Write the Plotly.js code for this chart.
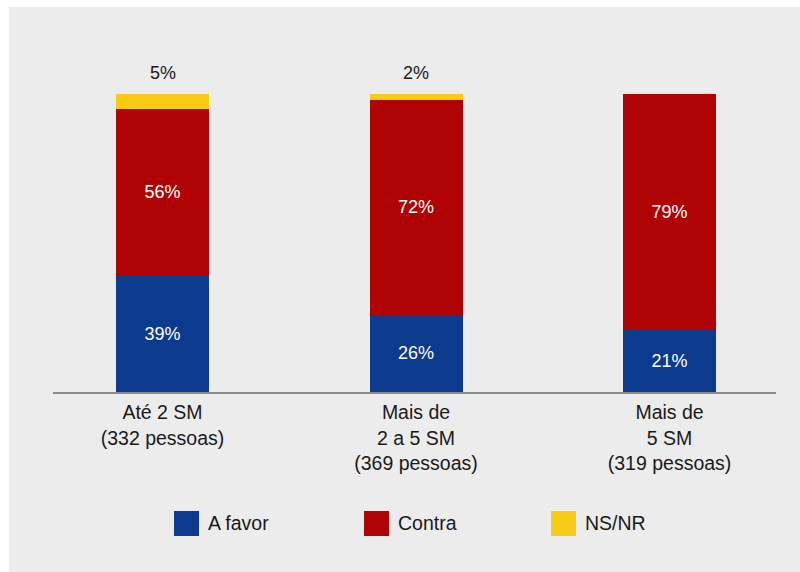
<!DOCTYPE html>
<html>
<head>
<meta charset="utf-8">
<script src="https://cdn.plot.ly/plotly-3.0.1.min.js"></script>
<style>
  html, body { margin: 0; padding: 0; background: #ffffff; }
  #chart { position: absolute; left: 9px; top: 7px; width: 791px; height: 565px; }
</style>
</head>
<body>
<div id="chart"></div>
<script>
const categories = ["Até 2 SM<br>(332 pessoas)", "Mais de<br>2 a 5 SM<br>(369 pessoas)", "Mais de<br>5 SM<br>(319 pessoas)"];
const seriesNames = ["A favor", "Contra", "NS/NR"];
const aFavor = [39, 26, 21];
const contra = [56, 72, 79];
const nsnr = [5, 2, 0];
const colors = ["#0c3a8d", "#b00404", "#f8cb17"];

const FONT = "Liberation Sans, Arial, Helvetica, sans-serif";
const pct = v => v > 0 ? v + "%" : "";

const insideTrace = (name, vals, color) => ({
  type: "bar", name: name, x: categories, y: vals, width: 0.367,
  marker: { color: color, line: { width: 0 } },
  text: vals.map(pct), textposition: "inside", insidetextanchor: "middle",
  constraintext: "none",
  textfont: { family: FONT, size: 18, color: "#ffffff" },
  hoverinfo: "skip", showlegend: false
});

const data = [
  insideTrace(seriesNames[0], aFavor, colors[0]),
  insideTrace(seriesNames[1], contra, colors[1]),
  { type: "bar", name: seriesNames[2], x: categories, y: nsnr, width: 0.367,
    marker: { color: colors[2], line: { width: 0 } }, textposition: "none",
    hoverinfo: "skip", showlegend: false }
];

const totals = categories.map((c, i) => aFavor[i] + contra[i] + nsnr[i]);
const annotations = categories.map((c, i) => ({
  x: c, y: totals[i], xref: "x", yref: "y", text: pct(nsnr[i]), showarrow: false,
  yanchor: "bottom", yshift: 9, font: { family: FONT, size: 18, color: "#1a1a1a" }
})).filter(a => a.text !== "");

// legend built from series names and colours
const legX = [0.1674, 0.4302, 0.6888];
const shapes = [];
seriesNames.forEach((n, i) => {
  shapes.push({ type: "rect", xref: "paper", yref: "paper",
    x0: legX[i], x1: legX[i] + 25 / 723, y0: -0.4337, y1: -0.3584,
    fillcolor: colors[i], line: { width: 0 } });
  annotations.push({ xref: "paper", yref: "paper", x: legX[i] + 32 / 723, y: -0.396,
    xanchor: "left", yanchor: "middle", text: n, showarrow: false,
    font: { family: FONT, size: 19.5, color: "#1a1a1a" } });
});

const layout = {
  width: 791, height: 565,
  margin: { l: 44, r: 24, t: 53, b: 180 },
  paper_bgcolor: "#ececec", plot_bgcolor: "#ececec",
  barmode: "stack", bargap: 0,
  showlegend: false,
  font: { family: FONT, size: 19.5, color: "#1a1a1a" },
  xaxis: { type: "category", range: [-0.432, 2.42], showline: true, linecolor: "#8a8a8a",
    linewidth: 2, ticks: "", showgrid: false, zeroline: false, ticklabelstandoff: 2,
    tickfont: { family: FONT, size: 19.5, color: "#1a1a1a" }, fixedrange: true },
  yaxis: { range: [0, 111.4], visible: false, showgrid: false, zeroline: false, fixedrange: true },
  shapes: shapes,
  annotations: annotations
};

Plotly.newPlot("chart", data, layout, { displayModeBar: false, staticPlot: true });
</script>
</body>
</html>
